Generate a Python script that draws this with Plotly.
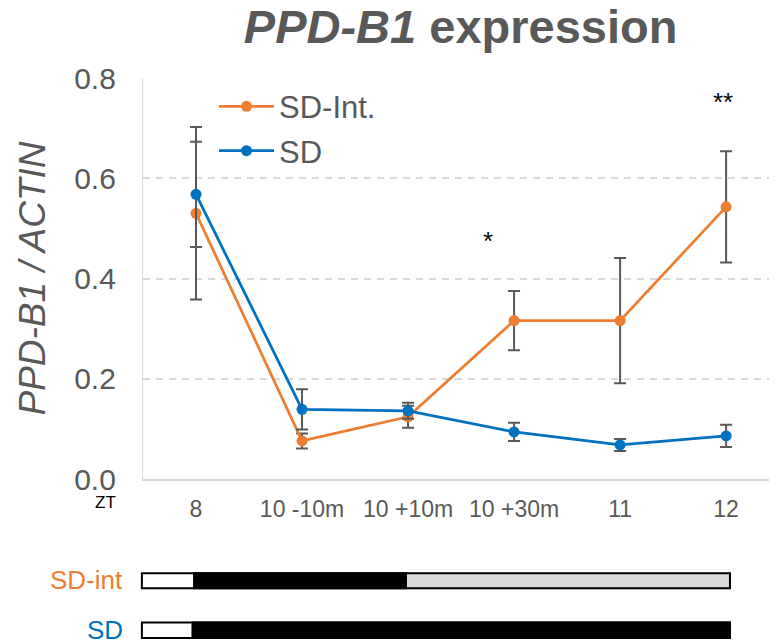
import plotly.graph_objects as go

# ---- data ----
categories = ["8", "10 -10m", "10 +10m", "10 +30m", "11", "12"]
sdint_mean = [0.530, 0.076, 0.124, 0.316, 0.316, 0.543]
sdint_err = [0.172, 0.015, 0.022, 0.059, 0.125, 0.111]
sd_mean = [0.568, 0.139, 0.136, 0.094, 0.068, 0.086]
sd_err = [0.105, 0.040, 0.016, 0.018, 0.012, 0.022]
y_ticks = [0.0, 0.2, 0.4, 0.6, 0.8]

# significance marks: (category, label, y value)
sig_marks = [("10 +30m", "*", 0.485), ("12", "**", 0.762)]

# light regime bars (boundaries in category-axis units) and fills
sdint_bounds = [-0.52, -0.028, 1.99, 5.046]
sdint_fills = ["white", "black", "#d9d9d9"]
sd_bounds = [-0.52, -0.043, 5.046]
sd_fills = ["white", "black"]

ORANGE = "#ED7D31"
BLUE = "#0070C0"
GREY = "#595959"
FONT = "Arial, Liberation Sans, sans-serif"

X_RANGE = [-0.5, 5.48]


def to_paper(v):
    return (v - X_RANGE[0]) / (X_RANGE[1] - X_RANGE[0])


fig = go.Figure()

fig.add_trace(go.Scatter(
    x=categories, y=sdint_mean, name="SD-Int.", mode="lines+markers",
    line=dict(color=ORANGE, width=2.75), marker=dict(color=ORANGE, size=11),
    error_y=dict(type="data", array=sdint_err, visible=True, color=GREY, thickness=2, width=6),
    legendgroup="a",
))
fig.add_trace(go.Scatter(
    x=categories, y=sd_mean, name="SD", mode="lines+markers",
    line=dict(color=BLUE, width=2.75), marker=dict(color=BLUE, size=11),
    error_y=dict(type="data", array=sd_err, visible=True, color=GREY, thickness=2, width=6),
    legendgroup="b",
))

shapes = []


def add_bar(bounds, fills, y0, y1):
    for i, f in enumerate(fills):
        shapes.append(dict(type="rect", xref="paper", yref="paper",
                           x0=to_paper(bounds[i]), x1=to_paper(bounds[i + 1]),
                           y0=y0, y1=y1, fillcolor=f, line=dict(width=0), layer="above"))
    shapes.append(dict(type="rect", xref="paper", yref="paper",
                       x0=to_paper(bounds[0]) + 0.0016, x1=to_paper(bounds[-1]) - 0.0016,
                       y0=y0 + 0.0025, y1=y1 - 0.0025, fillcolor="rgba(0,0,0,0)",
                       line=dict(color="black", width=2), layer="above"))


add_bar(sdint_bounds, sdint_fills, -0.2749, -0.2325)
add_bar(sd_bounds, sd_fills, -0.3987, -0.3556)

annotations = []
for cat, lab, yv in sig_marks:
    annotations.append(dict(x=categories.index(cat), y=yv, xref="x", yref="y", text=lab,
                            showarrow=False, xanchor="center", yanchor="middle",
                            font=dict(family=FONT, size=26, color="black"),
                            xshift=-26 if lab == "*" else -3, yshift=-5))
annotations.append(dict(x=-0.0589, y=-0.0598, xref="paper", yref="paper", text="ZT",
                        xanchor="center", yanchor="middle", showarrow=False,
                        font=dict(family=FONT, size=17, color="black")))
annotations.append(dict(x=-0.028, y=-0.2517, xref="paper", yref="paper", text="SD-int",
                        xanchor="right", yanchor="middle", showarrow=False,
                        font=dict(family=FONT, size=26, color=ORANGE)))
annotations.append(dict(x=-0.028, y=-0.3763, xref="paper", yref="paper", text="SD",
                        xanchor="right", yanchor="middle", showarrow=False,
                        font=dict(family=FONT, size=26, color=BLUE)))

# page body has an 8px margin, so the figure is 8px smaller on each axis
fig.update_layout(
    width=769, height=633,
    margin=dict(l=135.3, r=0, t=69.7, b=162, autoexpand=False),
    paper_bgcolor="white", plot_bgcolor="white",
    font=dict(family=FONT, color=GREY),
    title=dict(text="<b><i>PPD-B1</i> expression</b>", font=dict(family=FONT, size=47, color=GREY),
               x=0.501, xref="paper", xanchor="center", y=1 - 18.8 / 633, yref="container",
               yanchor="middle"),
    showlegend=True,
    legend=dict(x=0.112, y=0.9957, xanchor="left", yanchor="top", bgcolor="rgba(0,0,0,0)",
                font=dict(family=FONT, size=31, color=GREY), itemwidth=55,
                traceorder="grouped", tracegroupgap=1),
    xaxis=dict(type="category", range=X_RANGE, showgrid=False, showline=True,
               linecolor="#d9d9d9", linewidth=1.5, ticks="", zeroline=False,
               tickfont=dict(family=FONT, size=23, color=GREY), ticklabelstandoff=9),
    yaxis=dict(range=[0, 0.8], tickvals=y_ticks, tickformat=".1f", showgrid=True,
               gridcolor="#d9d9d9", gridwidth=1.5, griddash="7px,6px", zeroline=False,
               showline=True, linecolor="#d9d9d9", linewidth=1.3, ticks="",
               tickfont=dict(family=FONT, size=30, color=GREY), ticklabelstandoff=20,
               title=dict(text="<i>PPD-B1 / ACTIN</i>", font=dict(family=FONT, size=37, color=GREY),
                          standoff=17)),
    shapes=shapes,
    annotations=annotations,
)

fig.write_html("out.html")
